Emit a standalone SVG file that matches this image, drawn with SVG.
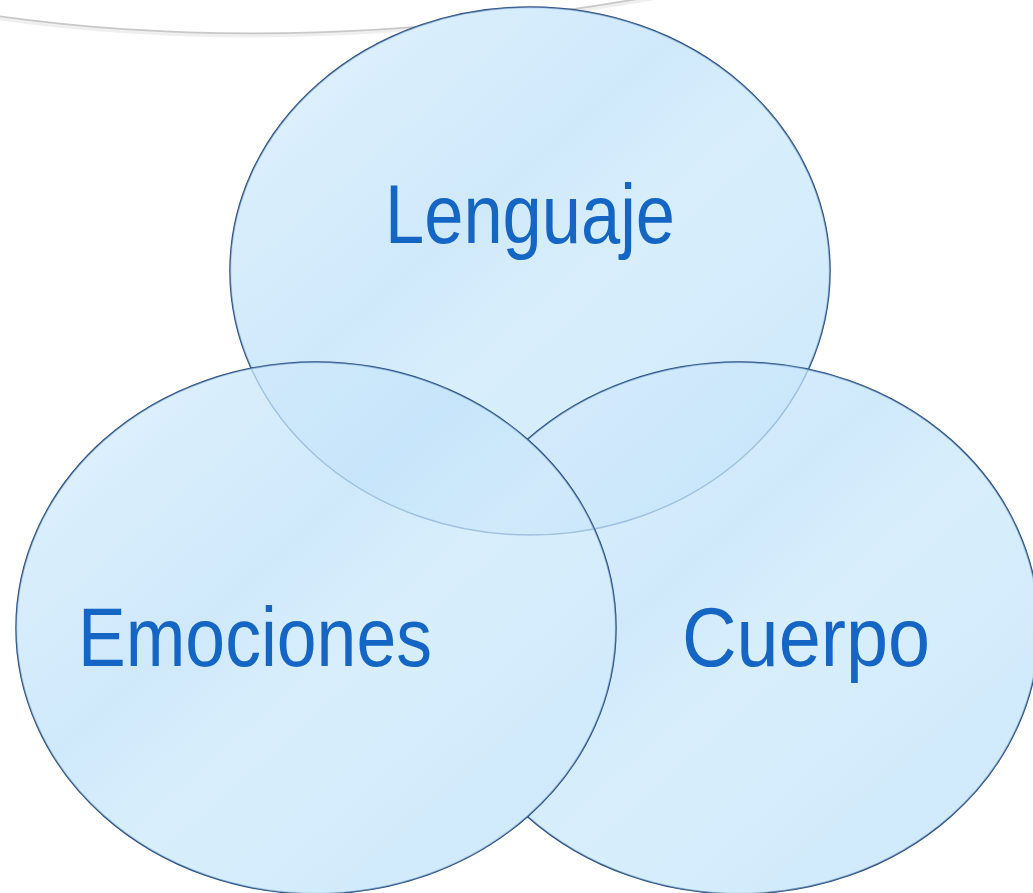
<svg xmlns="http://www.w3.org/2000/svg" width="1033" height="893" viewBox="0 0 1033 893">
  <style>
    .bubble { fill: url(#glass); stroke: #27497a; stroke-width: 1.5; }
    .inner { fill: none; stroke: #9cc4e6; stroke-width: 3; stroke-opacity: 0.45; }
    .ghost { fill: #8cc8f2; fill-opacity: 0.1; stroke: #7fa6cc; stroke-width: 1.4; stroke-opacity: 0.6; }
    .label { font-family: "Liberation Sans", "DejaVu Sans", sans-serif; font-size: 84px; fill: #1566c4; text-anchor: middle; }
  </style>
  <defs>
    <linearGradient id="glass" x1="0" y1="0" x2="1" y2="1">
      <stop offset="0" stop-color="#e2f2fd"/>
      <stop offset="0.4" stop-color="#cfe9fb"/>
      <stop offset="0.55" stop-color="#d8eefc"/>
      <stop offset="1" stop-color="#cce8fb"/>
    </linearGradient>
    <clipPath id="clipTop"><ellipse cx="530" cy="271" rx="300" ry="264"/></clipPath>
    <clipPath id="clipRight"><ellipse cx="739" cy="628" rx="300" ry="266"/></clipPath>
    <clipPath id="clipLeft"><ellipse cx="316" cy="628" rx="300" ry="266"/></clipPath>
  </defs>
  <rect width="1033" height="893" fill="#ffffff"/>
  <path d="M -10 15 Q 300 60 660 -5" fill="none" stroke="#efefef" stroke-width="4" transform="translate(0,2)"/>
  <path d="M -10 15 Q 300 60 660 -5" fill="none" stroke="#c8c8c8" stroke-width="1.8"/>
  <g id="lenguaje">
    <ellipse class="bubble" cx="530" cy="271" rx="300" ry="264"/>
    <ellipse class="inner" cx="530" cy="271" rx="300" ry="264" clip-path="url(#clipTop)"/>
    <text class="label" x="530" y="243" textLength="290" lengthAdjust="spacingAndGlyphs">Lenguaje</text>
  </g>
  <g id="cuerpo">
    <ellipse class="bubble" cx="739" cy="628" rx="300" ry="266"/>
    <ellipse class="inner" cx="739" cy="628" rx="300" ry="266" clip-path="url(#clipRight)"/>
    <ellipse class="ghost" cx="530" cy="271" rx="300" ry="264" clip-path="url(#clipRight)"/>
    <text class="label" x="806" y="666" textLength="248" lengthAdjust="spacingAndGlyphs">Cuerpo</text>
  </g>
  <g id="emociones">
    <ellipse class="bubble" cx="316" cy="628" rx="300" ry="266"/>
    <ellipse class="inner" cx="316" cy="628" rx="300" ry="266" clip-path="url(#clipLeft)"/>
    <ellipse class="ghost" cx="530" cy="271" rx="300" ry="264" clip-path="url(#clipLeft)"/>
    <text class="label" x="255" y="666" textLength="354" lengthAdjust="spacingAndGlyphs">Emociones</text>
  </g>
</svg>
